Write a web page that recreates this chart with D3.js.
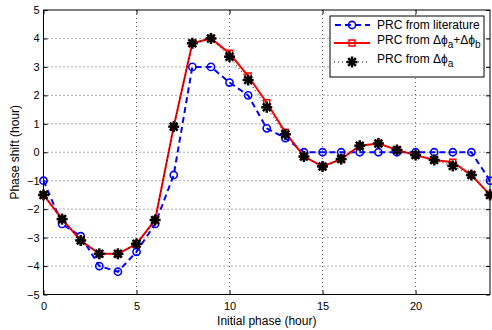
<!DOCTYPE html>
<html>
<head>
<meta charset="utf-8">
<script src="https://cdn.jsdelivr.net/npm/d3@7"></script>
<style>
  body { margin: 0; background: #fff; }
  text { font-family: "Liberation Sans", Arial, sans-serif; }
</style>
</head>
<body>
<div id="chart"></div>
<script>
// initial phase, hourly
const hours = d3.range(0, 25);
const literature = [-1, -2.52, -2.95, -4, -4.2, -3.5, -2.52, -0.8, 3, 3, 2.45, 2, 0.84, 0.5,
  0, 0, 0, 0, 0, 0, 0, 0, 0, 0, -1];
const fromAB = [-1.5, -2.35, -3.1, -3.57, -3.57, -3.22, -2.38, 0.9, 3.83, 4.0, 3.48, 2.68, 1.74, 0.7,
  -0.15, -0.5, -0.24, 0.23, 0.31, 0.08, -0.1, -0.27, -0.35, -0.8, -1.5];
const fromA = [-1.5, -2.35, -3.1, -3.57, -3.57, -3.22, -2.38, 0.9, 3.83, 4.0, 3.36, 2.54, 1.58, 0.63,
  -0.15, -0.5, -0.24, 0.23, 0.31, 0.08, -0.1, -0.27, -0.48, -0.8, -1.5];
const xTicks = [0, 5, 10, 15, 20];
const yTicks = d3.range(-5, 6);

const width = 492, height = 330;
const margin = { top: 10, right: 2, bottom: 35.5, left: 43.5 };
const w = width - margin.left - margin.right;
const h = height - margin.top - margin.bottom;

const svg = d3.select('#chart').append('svg')
  .attr('width', width)
  .attr('height', height);

const graph = svg.append('g')
  .attr('transform', `translate(${margin.left}, ${margin.top})`);

const x = d3.scaleLinear().domain([0, 24]).range([0, w]);
const y = d3.scaleLinear().domain([-5, 5]).range([h, 0]);

const minus = d => d < 0 ? '\u2212' + Math.abs(d) : String(d);

// grid
graph.append('g').selectAll('line').data(xTicks.slice(1))
  .join('line')
  .attr('x1', d => x(d)).attr('x2', d => x(d))
  .attr('y1', 0).attr('y2', h)
  .attr('stroke', '#555').attr('stroke-width', 1).attr('stroke-dasharray', '1,3');
graph.append('g').selectAll('line').data(yTicks.slice(1, -1))
  .join('line')
  .attr('y1', d => y(d)).attr('y2', d => y(d))
  .attr('x1', 0).attr('x2', w)
  .attr('stroke', '#555').attr('stroke-width', 1).attr('stroke-dasharray', '1,3');

// axes, ticks inward like matlab
graph.append('g')
  .attr('transform', `translate(0, ${h})`)
  .call(d3.axisBottom(x).tickValues(xTicks).tickSizeInner(-4).tickSizeOuter(0).tickPadding(8).tickFormat(minus));
graph.append('g')
  .call(d3.axisLeft(y).tickValues(yTicks).tickSizeInner(-4).tickSizeOuter(0).tickPadding(4).tickFormat(minus));
graph.append('g')
  .call(d3.axisTop(x).tickValues(xTicks).tickSizeInner(-4).tickSizeOuter(0).tickFormat(''));
graph.append('g')
  .attr('transform', `translate(${w}, 0)`)
  .call(d3.axisRight(y).tickValues(yTicks).tickSizeInner(-4).tickSizeOuter(0).tickFormat(''));

svg.selectAll('.domain').remove();
svg.selectAll('.tick line').attr('stroke', '#000');
svg.selectAll('.tick text').attr('font-size', 11).attr('fill', '#000')
  .style('font-family', '"Liberation Sans", Arial, sans-serif');

graph.append('rect')
  .attr('width', w).attr('height', h)
  .attr('fill', 'none').attr('stroke', '#000').attr('stroke-width', 1);

// series
const line = vals => d3.line().x((d, i) => x(hours[i])).y(d => y(d))(vals);

const plot = graph.append('g');

plot.append('path').attr('d', line(literature))
  .attr('fill', 'none').attr('stroke', '#0000ff').attr('stroke-width', 2).attr('stroke-dasharray', '6,4');
plot.selectAll('circle.lit').data(literature).join('circle')
  .attr('class', 'lit')
  .attr('cx', (d, i) => x(hours[i])).attr('cy', d => y(d)).attr('r', 3.6)
  .attr('fill', 'none').attr('stroke', '#0000ff').attr('stroke-width', 1.6);

plot.append('path').attr('d', line(fromAB))
  .attr('fill', 'none').attr('stroke', '#ff0000').attr('stroke-width', 2);
plot.selectAll('rect.ab').data(fromAB).join('rect')
  .attr('class', 'ab')
  .attr('x', (d, i) => x(hours[i]) - 3).attr('y', d => y(d) - 3)
  .attr('width', 6).attr('height', 6)
  .attr('fill', 'none').attr('stroke', '#ff0000').attr('stroke-width', 1.5);

plot.append('path').attr('d', line(fromA))
  .attr('fill', 'none').attr('stroke', '#000').attr('stroke-width', 1).attr('stroke-dasharray', '1,3');

const star = (g, cx, cy, r) => {
  const s = g.append('g').attr('transform', `translate(${cx}, ${cy})`);
  [0, 45, 90, 135].forEach(a => {
    const rad = a * Math.PI / 180;
    s.append('line')
      .attr('x1', -r * Math.cos(rad)).attr('y1', -r * Math.sin(rad))
      .attr('x2', r * Math.cos(rad)).attr('y2', r * Math.sin(rad))
      .attr('stroke', '#000').attr('stroke-width', 2.5);
  });
};
fromA.forEach((d, i) => star(plot, x(hours[i]), y(d), 5.5));

// axis labels
svg.append('text')
  .attr('x', margin.left + w / 2).attr('y', 325)
  .attr('text-anchor', 'middle').attr('font-size', 12)
  .text('Initial phase (hour)');
svg.append('text')
  .attr('transform', `translate(18.5, ${margin.top + h / 2}) rotate(-90)`)
  .attr('text-anchor', 'middle').attr('font-size', 12)
  .text('Phase shift (hour)');

// legend
const legend = svg.append('g').attr('transform', 'translate(330, 16)');
legend.append('rect').attr('width', 154).attr('height', 61)
  .attr('fill', '#fff').attr('stroke', '#000').attr('stroke-width', 1);

const rows = [25, 43, 62].map(v => v - 16);
// row 1
legend.append('line').attr('x1', 4).attr('x2', 40).attr('y1', rows[0]).attr('y2', rows[0])
  .attr('stroke', '#0000ff').attr('stroke-width', 2).attr('stroke-dasharray', '6,4').attr('stroke-dashoffset', -1);
legend.append('circle').attr('cx', 22).attr('cy', rows[0]).attr('r', 3.6)
  .attr('fill', 'none').attr('stroke', '#0000ff').attr('stroke-width', 1.6);
// row 2
legend.append('line').attr('x1', 4).attr('x2', 40).attr('y1', rows[1]).attr('y2', rows[1])
  .attr('stroke', '#ff0000').attr('stroke-width', 2);
legend.append('rect').attr('x', 19).attr('y', rows[1] - 3).attr('width', 6).attr('height', 6)
  .attr('fill', 'none').attr('stroke', '#ff0000').attr('stroke-width', 1.5);
// row 3
legend.append('line').attr('x1', 4).attr('x2', 40).attr('y1', rows[2]).attr('y2', rows[2])
  .attr('stroke', '#000').attr('stroke-width', 1).attr('stroke-dasharray', '1,3');
star(legend, 22, rows[2], 5.5);

const t1 = legend.append('text').attr('x', 47).attr('y', rows[0] + 4).attr('font-size', 12);
t1.text('PRC from literature');
const t2 = legend.append('text').attr('x', 47).attr('y', rows[1] + 1).attr('font-size', 12);
t2.append('tspan').text('PRC from \u0394\u03d5');
t2.append('tspan').attr('dy', 4).attr('font-size', 10).text('a');
t2.append('tspan').attr('dy', -4).text('+\u0394\u03d5');
t2.append('tspan').attr('dy', 4).attr('font-size', 10).text('b');
const t3 = legend.append('text').attr('x', 47).attr('y', rows[2] + 1).attr('font-size', 12);
t3.append('tspan').text('PRC from \u0394\u03d5');
t3.append('tspan').attr('dy', 4).attr('font-size', 10).text('a');
</script>
</body>
</html>
